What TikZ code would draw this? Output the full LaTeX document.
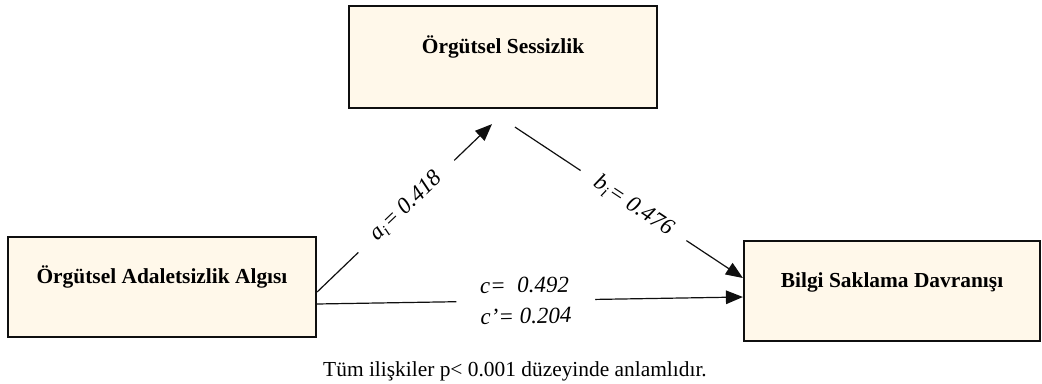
\documentclass[tikz,border=0pt]{standalone}
\usepackage{fontspec}
\setmainfont{Liberation Serif}
\usetikzlibrary{arrows.meta,calc}
\definecolor{boxfill}{RGB}{255,248,234}
\definecolor{boxline}{RGB}{15,15,15}
\tikzset{
  varbox/.style = {draw=boxline, line width=1.1pt, fill=boxfill, minimum height=50pt,
                   text height=8pt, text depth=11pt, inner sep=0pt,
                   font=\fontsize{10.7}{13}\selectfont\bfseries},
  effect/.style = {-{Triangle[length=8.5pt,width=6.8pt]}, line width=0.6pt, draw=boxline},
  coef/.style   = {font=\fontsize{11.5}{15.5}\selectfont\itshape, fill=white, sloped,
                   inner ysep=1pt},
  note/.style   = {font=\fontsize{10.7}{13}\selectfont},
}
\begin{document}
\begin{tikzpicture}[x=0.5pt, y=-0.5pt]
\useasboundingbox (0,0) rectangle (1042,384);

% --- variables ----------------------------------------------------------
\node[varbox, minimum width=154pt] (indep) at (162,287) {Örgütsel Adaletsizlik Algısı};
\node[varbox, minimum width=154pt, minimum height=51pt] (med) at (503,57) {Örgütsel Sessizlik};
\node[varbox, minimum width=148pt] (dep) at (892,291) {Bilgi Saklama Davranışı};

% --- paths --------------------------------------------------------------
\draw[effect] ($(indep.east)+(0,5)$) --
  node[coef, pos=0.51, inner xsep=10.5pt] {a\textsubscript{i}\kern0.3pt= 0.418}
  ($(med.south)+(-11,15)$);
\draw[effect] ($(med.south)+(12,18)$) --
  node[coef, pos=0.52, inner xsep=9pt] {b\textsubscript{i}\kern0.3pt= 0.476}
  ($(dep.west)+(0,-13)$);
\draw[effect] ($(indep.east)+(0,17)$) --
  node[coef, pos=0.49, inner xsep=12pt, align=left] {c=\ \ 0.492\\c’= 0.204}
  ($(dep.west)+(0,6)$);

% --- footnote -----------------------------------------------------------
\node[note] (remark) at (515,371) {Tüm ilişkiler p< 0.001 düzeyinde anlamlıdır.};

\end{tikzpicture}
\end{document}
